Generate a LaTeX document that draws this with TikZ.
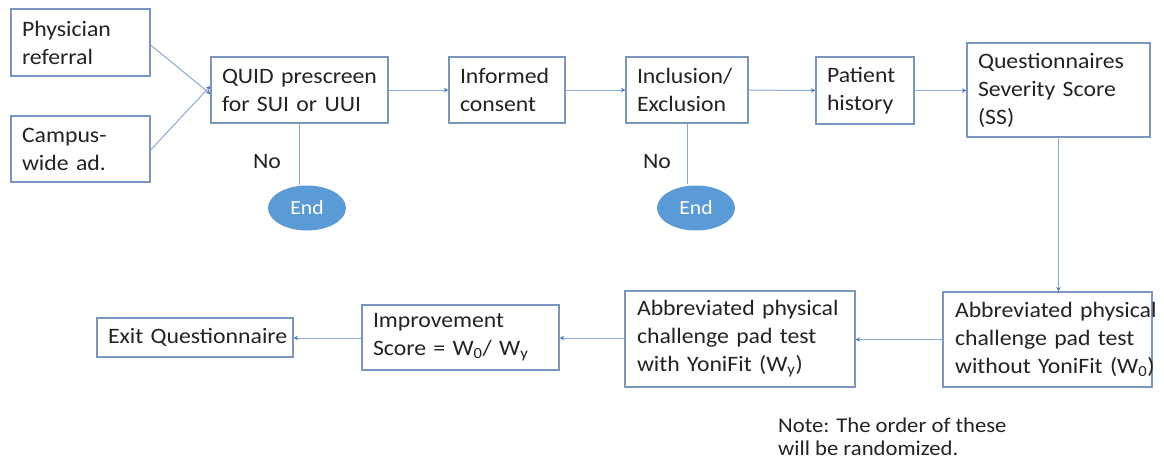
\documentclass[tikz,border=0pt]{standalone}
\usepackage{fontspec}
\setmainfont{Carlito}[FakeStretch=1.08]
\usetikzlibrary{arrows.meta,shapes.geometric}
\definecolor{boxline}{RGB}{122,150,192}
\definecolor{conn}{RGB}{140,170,215}
\definecolor{tipc}{RGB}{80,120,190}
\definecolor{endfill}{RGB}{91,155,213}
\definecolor{txt}{RGB}{35,35,35}
\begin{document}
\begin{tikzpicture}[x=1pt,y=-1pt,
  stepbox/.style={draw=boxline,line width=1.2pt,fill=white,inner xsep=11pt,inner ysep=0pt,
    align=left,text=txt,font=\fontsize{22}{28}\selectfont},
  endnode/.style={ellipse,fill=endfill,draw=none,minimum width=78pt,minimum height=45pt,
    inner sep=0pt,text=white,font=\fontsize{20}{22}\selectfont},
  conn/.style={draw=conn,line width=1pt},
  arr/.style={conn,-{Stealth[length=4.5pt,width=4.5pt,color=tipc]}},
  lbl/.style={text=txt,font=\fontsize{22}{24}\selectfont,inner sep=0pt}
]
\useasboundingbox (0,0) rectangle (1164,466);
\fill[white] (0,0) rectangle (1164,466);

\node[stepbox,minimum width=139pt,minimum height=67pt,text width=117pt] (phys) at (80.5,42.5) {Physician\\referral};
\node[stepbox,minimum width=139pt,minimum height=66pt,text width=117pt] (camp) at (80.5,149) {Campus-\\wide ad.};
\node[stepbox,minimum width=177pt,minimum height=66pt,text width=155pt] (quid) at (299.5,90) {\makebox[\linewidth][l]{QUID prescreen}\\for SUI or UUI};
\node[stepbox,minimum width=116pt,minimum height=66pt,text width=94pt] (inf) at (507,90) {Informed\\consent};
\node[stepbox,minimum width=122pt,minimum height=66pt,text width=100pt] (incl) at (687,90) {Inclusion/\\Exclusion};
\node[stepbox,minimum width=98pt,minimum height=67pt,text width=76pt] (pat) at (865,90.5) {Patient\\history};
\node[stepbox,minimum width=183pt,minimum height=94pt,text width=161pt] (ques) at (1058.5,90) {Questionnaires\\Severity Score\\(SS)};

\node[endnode] (end1) at (307,208) {End};
\node[endnode] (end2) at (696,208) {End};
\node[lbl] (no1) at (267,162) {No};
\node[lbl] (no2) at (657,162) {No};

\node[stepbox,minimum width=209pt,minimum height=95pt,text width=185pt,inner xsep=12pt] (abwo) at (1047.5,339.5) {\makebox[\linewidth][l]{Abbreviated physical}\\challenge pad test\\\makebox[\linewidth][l]{without YoniFit (W\textsubscript{0})}};
\node[stepbox,minimum width=230pt,minimum height=96pt,text width=206pt,inner xsep=12pt] (abw) at (740,339) {\makebox[\linewidth][l]{Abbreviated physical}\\challenge pad test\\with YoniFit (W\textsubscript{y})};
\node[stepbox,minimum width=197pt,minimum height=65pt,text width=175pt] (imp) at (460.5,337.5) {Improvement\\Score = W\textsubscript{0}/ W\textsubscript{y}};
\node[stepbox,minimum width=196pt,minimum height=39pt,text width=174pt] (exit) at (195,337.5) {\makebox[\linewidth][l]{Exit Questionnaire}};

\node[anchor=north west,align=left,text=txt,font=\fontsize{21}{23}\selectfont,inner sep=0pt] (note) at (778,418) {Note: The order of these\\will be randomized.};

\draw[arr] (phys.east|-0,45) -- ([yshift=-4pt]quid.west);
\draw[arr] (camp.east|-0,150) -- ([yshift=4pt]quid.west);
\draw[arr] (quid) -- (inf);
\draw[arr] (inf) -- (incl);
\draw[arr] (incl) -- (pat);
\draw[arr] (pat.east) -- (pat.east-|ques.west);
\draw[conn] (quid.south) -- (quid.south|-end1.north);
\draw[conn] (incl.south) -- ([yshift=1.5pt]incl.south|-end2.north);
\draw[arr] (ques.south) -- (ques.south|-abwo.north);
\draw[arr] (abwo.west) -- (abwo.west-|abw.east);
\draw[arr] (abw.west|-0,338) -- (imp.east|-0,338);
\draw[arr] (imp.west|-0,338) -- (exit.east|-0,338);
\end{tikzpicture}
\end{document}
